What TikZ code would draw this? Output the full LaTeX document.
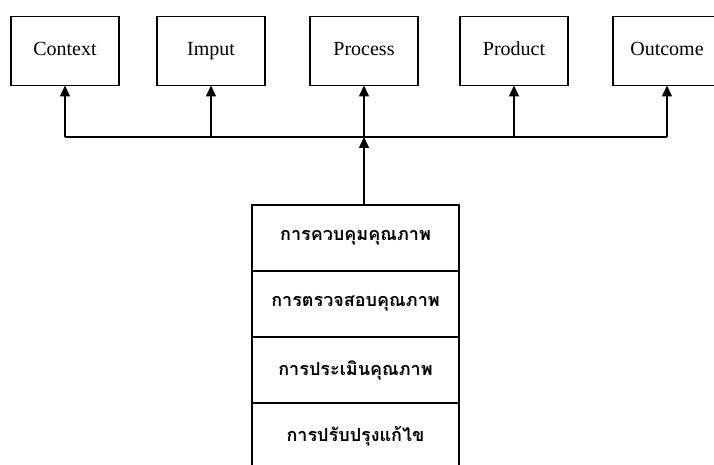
\documentclass[tikz,border=0pt]{standalone}
\usepackage{fontspec}
\setmainfont{Liberation Serif}
\newfontfamily\thaifont[Script=Thai]{Loma}
\usetikzlibrary{arrows.meta, positioning}

\tikzset{
    topbox/.style={draw, line width=1.8pt, minimum width=108pt, minimum height=69pt,
        inner sep=0pt, outer sep=0pt, text height=13pt, text depth=4pt,
        font=\fontsize{20}{23}\selectfont},
    rowbox/.style={draw, line width=1.3pt, minimum width=207pt, minimum height=66pt,
        inner sep=0pt, outer sep=0pt, font=\thaifont\bfseries\fontsize{18}{24}\selectfont},
    arr/.style={line width=1.4pt, -{Triangle[width=10pt,length=11pt]}}
}

\begin{document}
\begin{tikzpicture}[x=1pt, y=-1pt]
    % Page frame
    \useasboundingbox (0,0) rectangle (714,465);
    \clip (0,0) rectangle (714,465);
    % Top boxes
    \foreach \n/\x/\t in {ctx/65/Context, imp/211/Imput, prc/364/Process, prd/514/Product, out/667/Outcome}
    {
        \node[topbox] (\n) at (\x,51) {\t};
    }
    % Bus line
    \coordinate (bus) at (prc.south |- 0,137);
    \draw[line width=1.4pt] (ctx.south |- bus) -- (out.south |- bus);
    \foreach \n in {ctx,imp,prc,prd,out}
    {
        \draw[arr] (\n.south |- bus) -- (\n.south);
    }
    % Stack of quality steps
    \node[rowbox] (stk1) at (355.5,238) {การควบคุมคุณภาพ};
    \node[rowbox, below=0pt of stk1] (stk2) {การตรวจสอบคุณภาพ};
    \node[rowbox, below=0pt of stk2] (stk3) {การประเมินคุณภาพ};
    \node[rowbox, below=0pt of stk3] (stk4) {การปรับปรุงแก้ไข};
    \draw[arr] (bus |- stk1.north) -- (bus);
\end{tikzpicture}
\end{document}
